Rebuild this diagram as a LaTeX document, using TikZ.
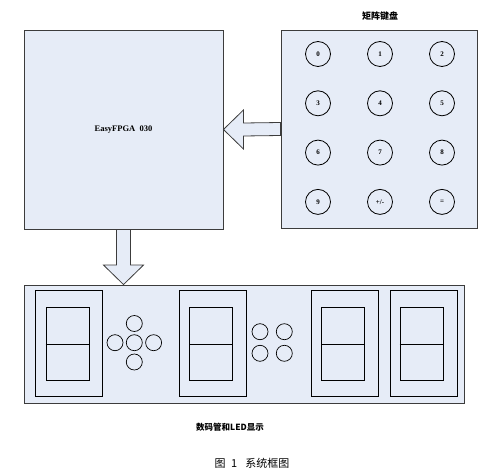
\documentclass[tikz,border=0pt]{standalone}
\usepackage{fontspec}
\setmainfont{Liberation Serif}
\newfontfamily\cjk{Noto Sans CJK SC}
\usepackage{tikz}
\usetikzlibrary{calc}
\definecolor{boxfill}{RGB}{230,236,247}
\definecolor{boxline}{RGB}{60,60,60}
\tikzset{
	blk/.style={draw=boxline, fill=boxfill, line width=0.9pt, inner sep=0pt},
	keybtn/.style={circle, draw=black, line width=0.8pt, minimum size=25pt, inner sep=0pt, font=\fontsize{7}{7}\selectfont\bfseries},
	ledbulb/.style={circle, draw=black, line width=0.7pt, minimum size=16pt, inner sep=0pt},
	digitcase/.style={draw=black, line width=0.8pt, minimum width=67pt, minimum height=106pt, inner sep=0pt},
	digitseg/.style={draw=black, line width=0.8pt, minimum width=43pt, minimum height=73pt, inner sep=0pt},
	fatarrow/.style={draw=boxline, fill=boxfill, line width=0.8pt, line join=miter}
}
\begin{document}
\begin{tikzpicture}[x=1pt, y=-1pt]
		\useasboundingbox (0,0) rectangle (479,473);
		% main blocks
		\node[blk, minimum width=199pt, minimum height=199pt] (fpga) at (123.5,129.5) {};
		\node[font=\fontsize{8.5}{9}\selectfont\bfseries] at (fpga.center) {EasyFPGA\ \ 030};
		\node[blk, minimum width=196pt, minimum height=198pt] (kbd) at (379,129) {};
		\node[font=\cjk\fontsize{9}{10}\selectfont\bfseries] (kbdlabel) at (380,16) {矩阵键盘};
		\node[blk, minimum width=440pt, minimum height=118pt] (disp) at (244,344) {};
		% keypad
		\foreach \t [count=\i from 0] in {0,1,2,3,4,5,6,7,8,9,+/-,=} {
			\pgfmathtruncatemacro{\col}{mod(\i,3)}
			\pgfmathtruncatemacro{\row}{div(\i,3)}
			\node[keybtn] (k\i) at (318+62*\col, 54+49.3*\row) {\t};
		}
		% seven segment digits
		\foreach \xo/\xi [count=\n] in {69.2/67.5, 212.8/211.3, 344.8/343, 423.5/421.5} {
			\node[digitcase] (case\n) at (\xo,343.5) {};
			\node[digitseg] (seg\n) at (\xi,344.3) {};
			\draw[line width=0.8pt] (seg\n.west) -- (seg\n.east);
		}
		% leds
		\node[ledbulb] (ledc) at (134.3,342.7) {};
		\node[ledbulb] (ledn) at (134.3,323.5) {};
		\node[ledbulb] (leds) at (134.3,362) {};
		\node[ledbulb] (ledw) at (115,342.7) {};
		\node[ledbulb] (lede) at (153.6,342.7) {};
		\node[ledbulb] (led1) at (260,331.7) {};
		\node[ledbulb] (led2) at (284.3,331.7) {};
		\node[ledbulb] (led3) at (260,353.3) {};
		\node[ledbulb] (led4) at (284.3,353.3) {};
		\node[font=\cjk\fontsize{8.5}{10}\selectfont\bfseries] (displabel) at (230,427) {数码管和LED显示};
		% arrows
		\draw[fatarrow] (fpga.east) -- ++(20,-19.5) -- ++(0,13) -- ($(kbd.west)+(0,-6.5)$)
			-- ($(kbd.west)+(0,6.5)$) -- ($(fpga.east)+(20,6.5)$) -- ++(0,13) -- cycle;
		\draw[fatarrow] (disp.north -| fpga.south) -- ++(-20,-19.5) -- ++(13,0) -- ($(fpga.south)+(-7,0)$)
			-- ($(fpga.south)+(7,0)$) -- ($(disp.north -| fpga.south)+(7,-19.5)$) -- ++(13,0) -- cycle;
		% caption
		\node[font=\cjk\fontsize{11}{12}\selectfont] (caption) at (252,463) {图\enspace 1\enspace\ 系统框图};
\end{tikzpicture}
\end{document}
